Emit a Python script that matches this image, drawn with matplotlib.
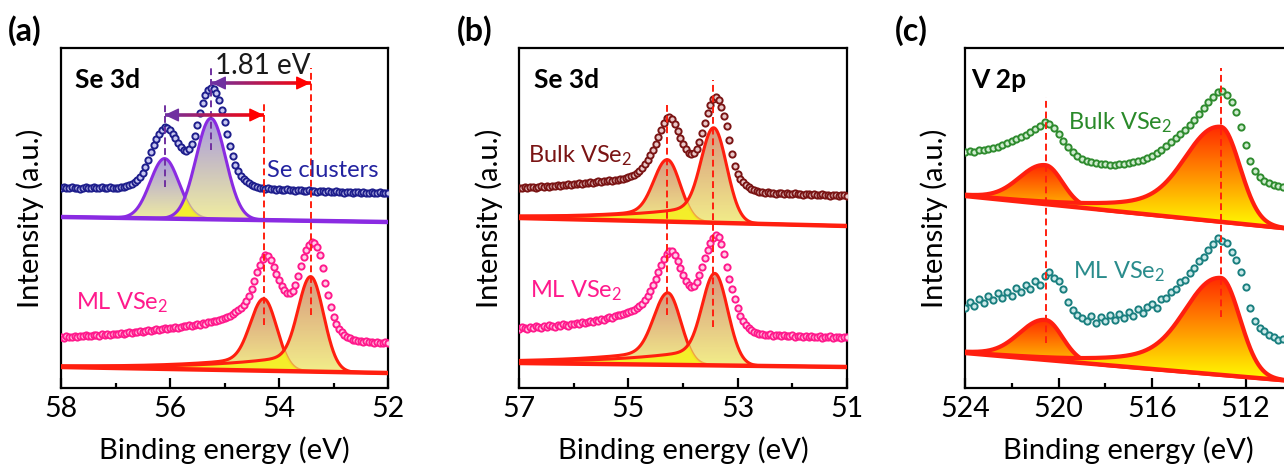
import numpy as np
import matplotlib
matplotlib.use('Agg')
import matplotlib.pyplot as plt
from matplotlib.colors import LinearSegmentedColormap
from matplotlib.collections import LineCollection

plt.rcParams['font.family'] = ['Lato', 'DejaVu Sans']
plt.rcParams['mathtext.fontset'] = 'custom'
plt.rcParams['mathtext.rm'] = 'Lato'
plt.rcParams['mathtext.default'] = 'regular'

# ---------------- data (y in arbitrary units) ----------------
# Panel (a): Se 3d, 58.00 -> 52.00 eV, step 0.05 eV
a_energy = np.round(np.linspace(58.0, 52.0, 121), 2)
a_se_clusters = [200, 201, 200, 200, 201, 200, 200, 199, 200, 201, 200, 200, 201, 200, 200, 201, 200, 200, 201, 200, 200,
                 200, 201, 201, 202, 203, 204, 206, 208, 211, 215,
                 221, 228, 236, 243, 249, 254, 258, 261, 260, 258,
                 254, 250, 245, 241, 238, 237, 239, 244, 252, 263,
                 275, 285, 293, 298, 300, 299, 295, 288, 278, 266,
                 254, 242, 232, 223, 217, 212, 209, 207, 205, 203,
                 202, 201, 200,
                 200, 199, 200, 199, 199, 198, 199, 198, 198, 199, 198, 198, 197, 198, 198, 197, 197, 198, 197, 197,
                 196, 197, 197, 196, 197, 196, 196, 197, 196, 196, 195, 196, 196, 195, 196, 196, 195, 196, 195, 195,
                 196, 195, 195, 196, 195, 195, 195]
a_ml_vse2 = [51, 50, 52, 51, 51, 52, 51, 52, 52, 53, 52, 52, 53, 53, 52, 54, 53, 54, 53, 54, 54,
             54, 55, 54, 55, 56, 55, 56, 56, 57, 56, 57, 58, 57, 58, 59, 58, 59, 60, 59, 60,
             60, 61, 60, 61, 62, 62, 63, 62, 63, 64, 63, 65, 64, 66,
             66, 67, 67, 68, 69, 70, 71, 72, 74,
             76, 78, 80, 83, 87, 92, 99, 107, 116, 123,
             129, 133, 132, 128, 121, 114, 108, 102, 98, 95,
             95, 97, 103, 112, 122, 131, 138, 143, 146, 145,
             141, 133, 120, 105, 93, 81, 71, 64, 59, 56,
             53, 51, 50, 48, 48,
             47, 47, 46, 47, 46, 46, 45, 46, 45, 45, 46, 45]

# Panel (b): Se 3d, 57.00 -> 51.00 eV, step 0.05 eV
b_energy = np.round(np.linspace(57.0, 51.0, 121), 2)
b_bulk_vse2 = [200, 200, 201, 200, 201, 201, 200, 201, 202, 201, 202, 201, 202, 202, 203, 202, 203, 203, 204, 203,
               204, 204, 205, 204, 205, 205, 206, 205, 206, 207, 206, 207, 207, 208, 207, 208, 208,
               209, 209, 210, 211, 212, 213, 215, 217, 220, 224,
               228, 233, 238, 244, 251, 258, 265, 270, 271, 269,
               264, 257, 250, 244, 239, 235, 234, 235, 239, 246,
               255, 265, 275, 283, 289, 291, 288, 281, 272, 262,
               248, 234, 222, 214, 209, 206, 203, 201, 199, 198,
               197, 196,
               196, 195, 196, 195, 195, 194, 195, 195, 194, 195, 194, 194, 195, 194, 194, 193,
               194, 194, 193, 194, 193, 193, 194, 193, 193, 192, 193, 193, 192, 193, 193, 192]
b_ml_vse2 = [59, 61, 60, 59, 61, 60, 62, 61, 60, 62, 61, 63, 62, 61, 63, 62, 64, 63, 62, 64,
             64, 65, 64, 66, 65, 66, 67, 66, 68, 67, 69, 68, 70, 71, 70, 72, 73,
             73, 74, 75, 76, 77, 78, 80, 82, 84, 88,
             92, 97, 103, 109, 116, 123, 129, 134, 137, 137,
             133, 127, 120, 113, 107, 103, 101, 102, 106, 113,
             121, 130, 138, 145, 150, 153, 151, 144, 134, 121,
             109, 99, 89, 80, 72, 67, 63, 60, 58, 56,
             55, 54,
             54, 53, 53, 54, 52, 53, 53, 52, 53, 52, 52, 53, 51, 52, 52, 51,
             52, 51, 52, 51, 51, 52, 50, 51, 51, 52, 50, 51, 51, 50, 51, 51]

# Panel (c): V 2p, 524.0 -> 510.0 eV, step 0.2 eV
c_energy = np.round(np.linspace(524.0, 510.0, 71), 2)
c_bulk_vse2 = [236, 237, 236, 238, 238, 239, 240, 241, 243, 245,
               247, 249, 251, 253, 256, 259, 262, 266, 264, 260,
               254, 247, 241, 236, 232, 229, 227, 226, 225, 224,
               224, 223, 223, 224, 224, 225, 226, 227, 228, 230,
               232, 235, 238, 242, 246, 250, 254, 258, 263, 268,
               274, 280, 286, 291, 296, 297, 293, 286, 276, 261,
               243, 227, 217, 211, 207, 205, 203, 202, 201, 200,
               200]
c_ml_vse2 = [80, 86, 82, 89, 85, 92, 88, 95, 90, 96,
             92, 100, 96, 103, 99, 107, 103, 112, 116, 110,
             107, 99, 86, 78, 73, 70, 67, 72, 65, 71,
             67, 73, 68, 74, 70, 76, 72, 79, 75, 81,
             84, 80, 89, 90, 96, 99, 106, 108, 115, 120,
             127, 131, 138, 144, 150, 147, 145, 136, 128, 116,
             101, 80, 67, 60, 57, 53, 51, 48, 49, 46,
             47]

# Fitted components: (centre eV, amplitude, low-BE FWHM, high-BE FWHM, tail fraction, tail decay eV)
a_cl_base = [171, 166]
a_cl_peaks = [(56.10, 60, 0.62, 0.62, 0.0, 1.0), (55.25, 101, 0.64, 0.64, 0.0, 1.0)]
a_ml_base = [21, 15]
a_ml_peaks = [(54.28, 72, 0.56, 0.56, 0.2, 1.5), (53.42, 95, 0.56, 0.52, 0.2, 1.5)]
b_bulk_base = [170, 162]
b_bulk_peaks = [(54.29, 62, 0.56, 0.56, 0.2, 1.5), (53.44, 95, 0.56, 0.52, 0.2, 1.5)]
b_ml_base = [25, 21]
b_ml_peaks = [(54.28, 72, 0.56, 0.58, 0.22, 1.5), (53.42, 92, 0.56, 0.52, 0.2, 1.5)]
c_bulk_base = [192, 159]
c_bulk_peaks = [(520.56, 39, 1.7, 2.4, 0.3, 1.5), (513.06, 95, 1.9, 3.0, 0.55, 2.5)]
c_ml_base = [35, 7]
c_ml_peaks = [(520.56, 40, 1.7, 2.4, 0.3, 1.5), (513.06, 97, 1.9, 3.0, 0.55, 2.5)]


def lineshape(E, E0, A, w_lo, w_hi, tail, tau):
    d = E - E0
    g_lo = np.exp(-4 * np.log(2) * d ** 2 / w_lo ** 2)
    g_hi = np.exp(-4 * np.log(2) * d ** 2 / w_hi ** 2)
    hi = g_hi + tail * (1 - g_hi) * np.exp(-np.clip(d, 0, None) / tau)
    return A * np.where(d > 0, hi, g_lo)


def gradient_fill(ax, E, y0, y1, c_top, c_bot, alpha, z):
    coll = ax.fill_between(E, y0, y1, facecolor='none', edgecolor='none', zorder=z)
    path = coll.get_paths()[0]
    cmap = LinearSegmentedColormap.from_list('g', [c_bot, c_top])
    img = np.linspace(0, 1, 256).reshape(-1, 1)
    im = ax.imshow(img, extent=[E.min(), E.max(), y0.min(), y1.max()], origin='lower',
                   aspect='auto', cmap=cmap, alpha=alpha, zorder=z, interpolation='bilinear')
    im.set_clip_path(path, transform=ax.transData)


def draw_fit(ax, lims, base_pts, peaks, edge, base_col, c_top, c_bot, alpha, lw, ov_col):
    E = np.linspace(lims[0], lims[1], 800)
    base = np.interp(E, [lims[1], lims[0]], [base_pts[1], base_pts[0]])
    comps = [lineshape(E, *p) for p in peaks]
    z = 2
    for i, c in enumerate(comps):
        gradient_fill(ax, E, base, base + c, c_top, c_bot, alpha, z)
        if i == 1 and ov_col is not None:
            ax.fill_between(E, base, base + np.minimum(comps[0], comps[1]), color=ov_col,
                            alpha=0.85, lw=0, zorder=z + 0.5)
        ax.plot(E, base + c, color=edge, lw=lw, zorder=z + 1, solid_capstyle='round')
        z += 2
    ax.plot(E, base, color=base_col, lw=3.2, zorder=z + 1)


def grad_arrow(ax, x_left, x_right, y, c0, c1):
    xs = np.linspace(x_left, x_right, 80)
    pts = np.column_stack([xs, np.full_like(xs, y)])
    segs = np.stack([pts[:-1], pts[1:]], axis=1)
    cmap = LinearSegmentedColormap.from_list('arr', [c0, c1])
    lc = LineCollection(segs, colors=cmap(np.linspace(0, 1, len(segs))), lw=2.6, zorder=8)
    ax.add_collection(lc)
    hs = '-|>,head_length=0.8,head_width=0.38'
    ax.annotate('', xy=(x_left, y), xytext=(x_left - 0.2, y),
                arrowprops=dict(arrowstyle=hs, fc=c0, ec=c0, lw=1, mutation_scale=11,
                                shrinkA=0, shrinkB=0), zorder=9)
    ax.annotate('', xy=(x_right, y), xytext=(x_right + 0.2, y),
                arrowprops=dict(arrowstyle=hs, fc=c1, ec=c1, lw=1, mutation_scale=11,
                                shrinkA=0, shrinkB=0), zorder=9)


def vdash(ax, x, y0, y1, color):
    ax.plot([x, x], [y0, y1], color=color, lw=1.4, dashes=(3.5, 2), zorder=7)


def data(ax, E, y, color, face):
    ax.plot(E, y, ls='none', marker='o', ms=4.5, mew=1.4, mec=color, mfc=face, zorder=6)


def style(ax, lims, major, minor):
    ax.set_xlim(*lims)
    ax.set_ylim(0, 340)
    ax.set_yticks([])
    ax.set_xticks(major)
    ax.set_xticks(minor, minor=True)
    ax.set_xticklabels([str(m) for m in major])
    ax.tick_params(axis='x', which='major', direction='in', length=7, width=1.6,
                   labelsize=20.5, pad=6)
    ax.tick_params(axis='x', which='minor', direction='in', length=3.5, width=1.6)
    for s in ax.spines.values():
        s.set_linewidth(1.6)
    ax.set_xlabel('Binding energy (eV)', fontsize=21, labelpad=10)
    ax.set_ylabel('Intensity (a.u.)', fontsize=21, labelpad=12)


fig = plt.figure(figsize=(12.84, 4.65), dpi=100)
W, H = 1284.0, 465.0
axA = fig.add_axes([61 / W, 77 / H, 327 / W, 340 / H])
axB = fig.add_axes([519.3 / W, 77 / H, 327.5 / W, 340 / H])
axC = fig.add_axes([965 / W, 77 / H, 327.5 / W, 340 / H])

RED = '#ff1f0f'
PURPLE = '#8a2be2'
VSE_TOP, VSE_BOT = '#c8704e', '#eee95c'
CL_TOP, CL_BOT = '#8672d2', '#eeea78'
YEL = '#f6f220'

# ---- panel (a)
draw_fit(axA, (58, 52), a_cl_base, a_cl_peaks, PURPLE, PURPLE, CL_TOP, CL_BOT, 0.72, 2.2, YEL)
draw_fit(axA, (58, 52), a_ml_base, a_ml_peaks, RED, RED, VSE_TOP, VSE_BOT, 0.72, 2.2, YEL)
data(axA, a_energy, a_se_clusters, '#1e1e8c', '#c8c8f0')
data(axA, a_energy, a_ml_vse2, '#ff1a8c', '#ffd0e8')
vdash(axA, 56.10, 201, 283, '#7030a0')
vdash(axA, 55.24, 238, 320, '#7030a0')
vdash(axA, 54.28, 63, 285, RED)
vdash(axA, 53.42, 73, 320, RED)
grad_arrow(axA, 56.10, 54.28, 273, '#7030a0', '#ff0000')
grad_arrow(axA, 55.24, 53.42, 305, '#7030a0', '#ff0000')
axA.text(54.29, 314, '1.81 eV', fontsize=20, ha='center', va='baseline', color='#1a1a1a', zorder=10)
axA.text(54.22, 211, 'Se clusters', fontsize=17, color='#2323a0', va='baseline', zorder=10)
axA.text(57.72, 78.7, 'ML VSe$_2$', fontsize=17, color='#ff1a8c', va='baseline', zorder=10)
axA.text(0.043, 0.881, 'Se 3d', transform=axA.transAxes, fontsize=19, fontweight='bold', va='baseline')
style(axA, (58, 52), [58, 56, 54, 52], [57, 55, 53])

# ---- panel (b)
draw_fit(axB, (57, 51), b_bulk_base, b_bulk_peaks, RED, RED, VSE_TOP, VSE_BOT, 0.72, 2.2, YEL)
draw_fit(axB, (57, 51), b_ml_base, b_ml_peaks, RED, RED, VSE_TOP, VSE_BOT, 0.72, 2.2, YEL)
data(axB, b_energy, b_bulk_vse2, '#7a1414', '#e8c8c8')
data(axB, b_energy, b_ml_vse2, '#ff1a8c', '#ffd0e8')
vdash(axB, 54.29, 73, 285, RED)
vdash(axB, 53.45, 61, 308, RED)
axB.text(56.84, 226, 'Bulk VSe$_2$', fontsize=17, color='#7a1414', va='baseline', zorder=10)
axB.text(56.80, 90.7, 'ML VSe$_2$', fontsize=17, color='#ff1a8c', va='baseline', zorder=10)
axB.text(0.045, 0.881, 'Se 3d', transform=axB.transAxes, fontsize=19, fontweight='bold', va='baseline')
style(axB, (57, 51), [57, 55, 53, 51], [56, 54, 52])

# ---- panel (c)
draw_fit(axC, (524, 510), c_bulk_base, c_bulk_peaks, RED, RED, '#ff2a00', '#ffff00', 1.0, 3.0, None)
draw_fit(axC, (524, 510), c_ml_base, c_ml_peaks, RED, RED, '#ff2a00', '#ffff00', 1.0, 3.0, None)
data(axC, c_energy, c_bulk_vse2, '#2e8b2e', '#d0ecd0')
data(axC, c_energy, c_ml_vse2, '#1a7f7f', '#cdeaea')
vdash(axC, 520.52, 45, 291, RED)
vdash(axC, 513.06, 71, 320, RED)
axC.text(519.60, 258.7, 'Bulk VSe$_2$', fontsize=17, color='#2a8a2a', va='baseline', zorder=10)
axC.text(519.39, 109.7, 'ML VSe$_2$', fontsize=17, color='#2a8c8c', va='baseline', zorder=10)
axC.text(0.020, 0.881, 'V 2p', transform=axC.transAxes, fontsize=19, fontweight='bold', va='baseline')
style(axC, (524, 510), [524, 520, 516, 512], [522, 518, 514, 510])

for lab, x in [('(a)', 8.3), ('(b)', 456.7), ('(c)', 895)]:
    fig.text(x / W, (H - 41) / H, lab, fontsize=23, fontweight='bold', va='baseline', ha='left')

fig.savefig('out.png', dpi=100)
